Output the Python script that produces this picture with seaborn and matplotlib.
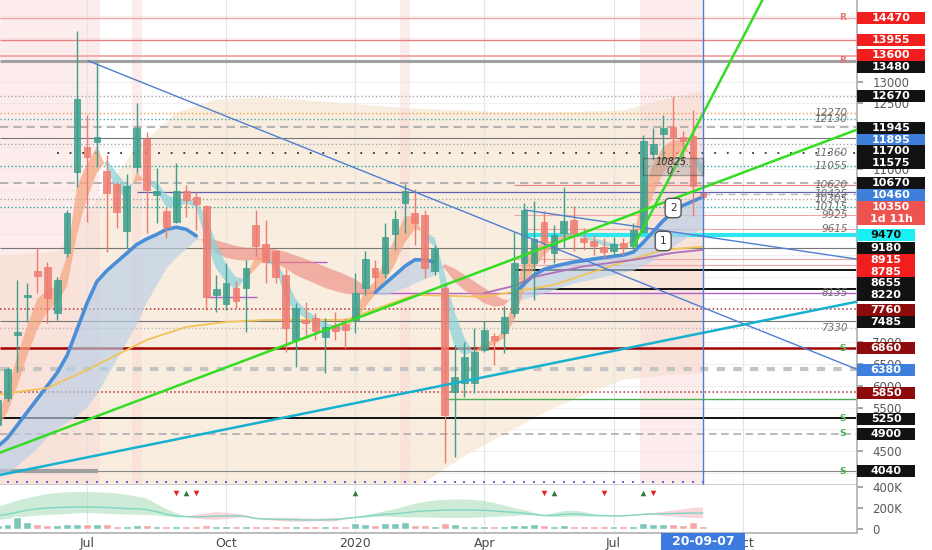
import numpy as np
import pandas as pd
import seaborn as sns
import matplotlib.pyplot as plt
from matplotlib.patches import Rectangle
from matplotlib.transforms import blended_transform_factory

# weekly bars, index 0 = week of 2019-05-06, index 70 = week of 2020-09-07
bars = list(range(-1, 71))

opens = [5100, 5719, 7170, 8047, 8645, 8738, 7678, 9060, 10926, 11502, 11618, 10949,
         10650, 9567, 11042, 11687, 10400, 10028, 9781, 10489, 10335, 10135, 8086, 7885,
         8254, 8247, 9705, 9267, 9106, 8553, 7056, 7477, 7555, 7117, 7401, 7424,
         7516, 8254, 8707, 8593, 9497, 10205, 9982, 9936, 8646, 8254, 5866, 6072,
         6057, 6826, 7155, 7210, 7670, 8823, 8823, 9781, 9053, 9528, 9820, 9397,
         9344, 9183, 9091, 9282, 9206, 9551, 11341, 11802, 11948, 11726, 11741, 10435]
highs = [5750, 6434, 8438, 8369, 9175, 8853, 8507, 10051, 14175, 12240, 13460, 11318,
         10696, 10880, 12516, 11848, 11018, 10120, 11134, 10627, 10450, 10166, 8553, 8824,
         8423, 8899, 10051, 9820, 9129, 8684, 7916, 7939, 7670, 7555, 7708, 7562,
         8593, 9091, 8899, 9744, 10051, 10650, 10527, 10051, 9244, 8362, 6940, 7017,
         7325, 7493, 7210, 7839, 9551, 10205, 10243, 10013, 9705, 10565, 10128, 9628,
         9474, 9397, 9421, 9397, 9744, 11779, 11933, 12240, 12661, 11856, 12355, 10460]
lows = [5000, 5650, 6318, 7470, 8139, 7447, 7516, 8968, 10581, 9774, 11042, 9083,
        9636, 9175, 10903, 9521, 9751, 9406, 9751, 9896, 9590, 7747, 7708, 7747,
        7786, 7247, 8991, 8362, 8362, 6786, 6441, 7133, 7056, 6289, 7056, 6870,
        7210, 8093, 8208, 8477, 9129, 9514, 9244, 8477, 8553, 4215, 4367, 5750,
        5827, 6786, 6480, 6763, 7593, 8362, 7977, 8823, 8823, 9168, 9091, 9129,
        9014, 8937, 8976, 9014, 9168, 9513, 11203, 11165, 11088, 11050, 9913, 10300]
closes = [5673, 6388, 7240, 8093, 8530, 8024, 8438, 9982, 12608, 11272, 11733, 10443,
          10005, 10604, 11940, 10512, 10480, 9659, 10473, 10281, 10182, 8040, 8223, 8362,
          7954, 8707, 9221, 8860, 8500, 7325, 7786, 7454, 7263, 7362, 7270, 7286,
          8132, 8922, 8500, 9436, 9836, 10489, 9744, 8707, 9168, 5335, 6197, 6671,
          6786, 7286, 7056, 7578, 8823, 10036, 9382, 9320, 9474, 9804, 9513, 9320,
          9206, 9068, 9267, 9191, 9590, 11627, 11572, 11933, 11703, 11625, 10604, 10350]
volume_k = [40, 50, 110, 65, 45, 40, 38, 45, 50, 48, 45, 50,
            32, 30, 35, 40, 30, 28, 28, 28, 25, 35, 28, 30,
            25, 32, 30, 28, 25, 32, 30, 28, 30, 25, 28, 30,
            60, 45, 38, 55, 58, 62, 42, 35, 28, 60, 45, 32,
            32, 30, 25, 25, 40, 40, 52, 40, 30, 35, 32, 28,
            28, 25, 30, 25, 30, 55, 50, 50, 48, 40, 70, 25]

# fast ribbon (orange when fast above slow, cyan when below)
fast_a = [5300, 5900, 6700, 7400, 8000, 8200, 8300, 9000, 10600, 11100, 11500, 11000,
          10500, 10300, 10900, 10700, 10500, 10100, 10100, 10200, 10100, 9300, 8700, 8400,
          8200, 8500, 9000, 8900, 8700, 8000, 7700, 7550, 7400, 7300, 7280, 7290,
          7700, 8200, 8400, 8900, 9400, 9900, 9900, 9400, 9200, 7700, 6900, 6700,
          6800, 7000, 7050, 7300, 8000, 9000, 9200, 9300, 9350, 9500, 9500, 9420,
          9320, 9220, 9200, 9220, 9400, 10500, 11100, 11500, 11650, 11650, 11200, 10800]
fast_b = [5000, 5400, 6000, 6700, 7300, 7700, 7900, 8300, 9500, 10300, 10900, 11200,
          10900, 10600, 10700, 10750, 10700, 10400, 10300, 10300, 10250, 9900, 9300, 8800,
          8500, 8450, 8700, 8950, 8850, 8500, 8000, 7750, 7600, 7450, 7380, 7340,
          7500, 7800, 8100, 8400, 8800, 9300, 9600, 9550, 9400, 8600, 7700, 7100,
          6750, 6850, 6950, 7100, 7500, 8200, 8700, 9000, 9200, 9350, 9420, 9430,
          9400, 9330, 9280, 9260, 9300, 9800, 10400, 10900, 11200, 11400, 11350, 11100]

# slow ribbon (blue when bullish, salmon when bearish)
slow_a = [4600, 4800, 5100, 5400, 5700, 6000, 6300, 6700, 7300, 7900, 8400, 8650,
          8850, 9050, 9250, 9380, 9480, 9600, 9650, 9600, 9450, 9250, 9050, 8950,
          8900, 8880, 8900, 8880, 8820, 8700, 8550, 8450, 8350, 8250, 8180, 8120,
          8100, 8100, 8150, 8350, 8550, 8750, 8900, 8900, 8850, 8700, 8400, 8200,
          8050, 7900, 7820, 7850, 8100, 8350, 8550, 8680, 8750, 8800, 8850, 8880,
          8920, 8950, 8980, 9010, 9080, 9300, 9550, 9800, 10000, 10150, 10250, 10350]
slow_b = [3900, 4000, 4150, 4350, 4550, 4800, 5000, 5150, 5300, 5500, 5800, 6200,
          6600, 7000, 7400, 7900, 8300, 8700, 8950, 9150, 9350, 9400, 9350, 9280,
          9220, 9180, 9180, 9170, 9140, 9080, 9000, 8920, 8830, 8740, 8650, 8560,
          8450, 8300, 8100, 8080, 8150, 8250, 8350, 8450, 8550, 8800, 8700, 8550,
          8400, 8250, 8100, 7980, 7950, 8000, 8050, 8120, 8200, 8280, 8350, 8400,
          8450, 8500, 8550, 8600, 8650, 8750, 8880, 9030, 9200, 9350, 9500, 9620]

ma_yellow_bars = [-1, 4, 8, 14, 18, 22, 26, 34, 41, 48, 55, 62, 66, 70]
ma_yellow = [5800, 5950, 6365, 7056, 7355, 7470, 7516, 7516, 8093, 8047, 8323, 8853, 9130, 9200]
ma_purple_bars = [48, 51, 53, 58, 63, 67, 70]
ma_purple = [8135, 8300, 8507, 8750, 8899, 9060, 9130]

cloud_bars = [-1, 5, 9, 13, 17, 21, 26, 32, 40, 42, 46, 50, 54, 58, 62, 66, 70]
cloud_high = [9000, 9100, 10300, 11500, 12300, 12600, 12650, 12550, 12400, 12380, 12350,
              12300, 12300, 12320, 12350, 12600, 12800]
cloud_low = [3700, 3700, 3700, 3700, 3700, 3700, 3700, 3700, 3700, 3800, 4400,
             4900, 5400, 5800, 6150, 6250, 6300]

# oscillator in the volume pane (thousands): centre line, band top, band bottom
vol_mid = [125, 140, 160, 180, 192, 200, 205, 208, 209, 209, 208, 205,
           200, 195, 192, 185, 165, 140, 125, 118, 115, 118, 122, 125,
           126, 120, 100, 95, 92, 90, 88, 86, 86, 87, 90, 100,
           110, 120, 130, 140, 145, 155, 165, 172, 176, 180, 181, 181,
           180, 178, 172, 165, 158, 150, 140, 128, 130, 140, 143, 138,
           130, 126, 125, 126, 132, 140, 143, 145, 148, 150, 152, 152]
vol_top = [210, 240, 270, 295, 315, 333, 342, 350, 352, 352, 350, 345,
           338, 325, 310, 290, 240, 190, 150, 122, 135, 150, 160, 155,
           145, 130, 105, 105, 108, 108, 106, 100, 98, 102, 108, 108,
           115, 132, 150, 170, 190, 215, 240, 258, 270, 278, 281, 281,
           276, 266, 248, 225, 200, 180, 155, 133, 150, 170, 175, 163,
           142, 129, 133, 132, 136, 148, 153, 163, 176, 188, 200, 207]
vol_bot = [85, 95, 110, 120, 128, 133, 138, 142, 150, 152, 150, 145,
           140, 138, 135, 135, 130, 118, 110, 113, 100, 90, 88, 95,
           106, 108, 95, 85, 78, 72, 70, 70, 74, 72, 72, 92,
           105, 110, 115, 118, 112, 110, 110, 110, 108, 105, 105, 105,
           108, 110, 115, 120, 125, 130, 130, 123, 115, 115, 118, 118,
           118, 123, 117, 120, 128, 133, 133, 127, 120, 112, 106, 100]
sig_down = [17, 19, 54, 60, 65]
sig_up = [18, 35, 55, 64]

key_levels = [14470, 13955, 13600, 13480, 12670, 12270, 12130, 11945, 11700, 11575,
              11360, 11055, 10670, 10620, 10460, 10425, 10305, 10115, 9925, 9615,
              9470, 9180, 8915, 8785, 8655, 8220, 8135, 7760, 7485, 7330, 6860,
              6380, 5850, 5705, 5250, 4900, 4040]
note_levels = ['12270', '12130', '11360', '11055', '10620', '10425', '10305', '10115',
               '9925', '9615', '8135', '7330']
resist_levels = [14470, 13480]
support_levels = [6860, 5250, 4900, 4040]

# right-hand price tags: text, level it is shown at, kind
tag_text = ['14470', '13955', '13600', '13480', '12670', '11945', '11895', '11700',
            '11575', '10670', '10460', '10350', '1d 11h', '9470', '9180', '8915',
            '8785', '8655', '8220', '7760', '7485', '6860', '6380', '5850', '5250',
            '4900', '4040']
tag_at = [14475, 13958, 13601, 13325, 12669, 11944, 11668, 11404, 11127, 10667, 10391,
          10126, 9850, 9470, 9172, 8895, 8619, 8355, 8090, 7756, 7480, 6859, 6364,
          5846, 5248, 4903, 4040]
tag_kind = ['red', 'red', 'red', 'black', 'black', 'black', 'blue', 'black', 'black',
            'black', 'blue', 'lred', 'lred', 'cyan', 'black', 'red', 'red', 'black',
            'black', 'dred', 'black', 'dred', 'blue', 'dred', 'black', 'black', 'black']
axis_ticks = [13000, 12500, 11000, 7000, 6500, 6000, 5500, 4500]

trend_blue1_x, trend_blue1_y = [8.1, 85.5], [13480, 6380]
trend_blue2_x, trend_blue2_y = [52.1, 85.5], [10046, 8915]
trend_green_x, trend_green_y = [-0.76, 85.5], [4461, 11895]
trend_steep_x, trend_steep_y = [63.0, 76.0], [9200, 14880]
trend_cyan_x, trend_cyan_y = [-0.76, 85.5], [3948, 7936]

month_bars = [8, 22, 35, 48, 61, 74]
month_labels = ['Jul', 'Oct', '2020', 'Apr', 'Jul', 'Oct']

df = pd.DataFrame({'bar': bars, 'open': opens, 'high': highs, 'low': lows,
                   'close': closes, 'vol': volume_k})
df['up'] = df['close'] >= df['open']

sns.set_theme(style='white')
plt.rcParams['font.family'] = ['DejaVu Sans']

W, H = 932, 550
fig = plt.figure(figsize=(W / 100, H / 100), dpi=100)
ax = fig.add_axes([0, 65 / H, 857 / W, 485 / H])
vax = fig.add_axes([0, 17 / H, 857 / W, 48 / H])
x_lo, x_hi = -0.755, 85.51
ax.set_xlim(x_lo, x_hi)
ax.set_ylim(3718, 14878)
vax.set_xlim(x_lo, x_hi)
vax.set_ylim(-38000, 419000)

# background: envelope cloud, highlighted weeks, grid
ax.fill_between(cloud_bars, cloud_low, cloud_high, color='#f6e6d1', alpha=0.7, lw=0, zorder=0.2)
for a, b in [(x_lo, 9.3), (12.5, 13.5), (39.5, 40.5), (63.7, 70.0)]:
    ax.axvspan(a, b, color='#fbd5d5', alpha=0.45, lw=0, zorder=0.3)
for p in range(4000, 15000, 500):
    ax.axhline(p, color='#eeeeee', lw=0.6, zorder=0.1)
for m in month_bars:
    ax.axvline(m, color='#e4e4e4', lw=0.8, zorder=0.4)
    vax.axvline(m, color='#e4e4e4', lw=0.8, zorder=0.4)

# horizontal levels
RL, GR = '#f3a5a5', '#a8a8a8'
level_style = {
    14470: (RL, '-', 1.0, None), 13955: ('#e98080', '-', 1.0, None),
    13600: (RL, '-', 1.3, None), 13480: ('#a0a0a0', '-', 2.2, None),
    12670: (GR, ':', 1.0, None), 12270: ('#f0a050', ':', 1.0, None),
    12130: ('#4aa8b0', ':', 1.0, None), 11945: (GR, (0, (5, 3)), 1.2, None),
    11700: ('#777777', '-', 0.8, None), 11575: (GR, ':', 1.0, None),
    11360: ('#333333', (0, (1, 6)), 1.3, 5), 11055: ('#26a69a', ':', 1.0, None),
    10670: (GR, (0, (5, 3)), 1.2, None), 10620: ('#f08080', '-', 0.8, 51),
    10460: ('#6060b0', '-', 0.9, 13), 10425: ('#b8b8b8', (0, (5, 4)), 1.0, 70),
    10305: (GR, ':', 1.0, None), 10115: ('#26a69a', ':', 1.0, None),
    9925: (RL, '-', 0.8, 51), 9615: (RL, '-', 0.8, 52),
    9470: ('#2ee6f0', '-', 3.0, 52), 9180: ('#777777', '-', 0.8, None),
    8915: (RL, '-', 0.8, 51), 8785: (RL, '-', 0.8, 51),
    8655: ('#111111', '-', 1.4, 51), 8220: ('#111111', '-', 1.4, 53),
    8135: ('#b060c8', '-', 1.0, 35.5), 7760: ('#b03030', ':', 1.1, None),
    7485: ('#777777', '-', 0.8, None), 7330: ('#b8b8b8', ':', 1.0, None),
    6860: ('#a00000', '-', 1.8, None), 6380: ('#c4c4c4', (0, (2, 2)), 3.0, None),
    5850: ('#b03030', ':', 1.1, None), 5705: ('#4caf50', '-', 1.0, 44),
    5250: ('#111111', '-', 1.4, None), 4900: (GR, (0, (5, 3)), 1.1, None),
    4040: ('#888888', '-', 0.8, None),
}
for p in key_levels:
    col, ls, lw, start = level_style[p]
    ax.hlines(p, x_lo if start is None else start, x_hi, colors=col, linestyles=ls,
              lw=lw, zorder=1.5)
ax.hlines(4040, x_lo, 9.1, colors='#a0a0a0', lw=3, zorder=1.6)
ax.hlines([8849, 8044], [26, 20], [32.2, 25.1], colors='#b060c8', lw=1.0, zorder=1.6)

# slow ribbon
sa, sb = np.array(slow_a), np.array(slow_b)
ax.fill_between(bars, sa, sb, where=sa >= sb, interpolate=True, color='#b9cfe7',
                alpha=0.65, lw=0, zorder=2)
ax.fill_between(bars, sa, sb, where=sa < sb, interpolate=True, color='#ee8c84',
                alpha=0.65, lw=0, zorder=2)
ax.plot(bars, np.where(sa >= sb, sa, np.nan), color='#4a8ed8', lw=2.6, zorder=2.6)

# fast ribbon
fa, fb = np.array(fast_a), np.array(fast_b)
ax.fill_between(bars, fa, fb, where=fa >= fb, interpolate=True, color='#f5a47e',
                alpha=0.7, lw=0, zorder=2.2)
ax.fill_between(bars, fa, fb, where=fa < fb, interpolate=True, color='#86d3da',
                alpha=0.7, lw=0, zorder=2.2)

sns.lineplot(x=ma_yellow_bars, y=ma_yellow, ax=ax, color='#f2c35a', lw=1.3, zorder=2.7)
sns.lineplot(x=ma_purple_bars, y=ma_purple, ax=ax, color='#b070b8', lw=1.3, zorder=2.7)

# candles
col = np.where(df['up'], '#3c9f8c', '#ee7b71')
ax.vlines(df['bar'], df['low'], df['high'], colors=col, lw=1.0, zorder=3)
body_lo = np.minimum(df['open'], df['close'])
body_h = np.maximum((df['close'] - df['open']).abs(), 50)
ax.bar(df['bar'], body_h, bottom=body_lo, width=0.68, color=col, edgecolor=col,
       lw=0.6, alpha=0.85, zorder=3.1)
ax.scatter(bars, [3787] * len(bars), marker='s', s=2.5, color='#6b63d6', lw=0, zorder=3)

# trend lines
sns.lineplot(x=trend_blue1_x, y=trend_blue1_y, ax=ax, color='#4f7fd0', lw=1.0, zorder=4)
sns.lineplot(x=trend_blue2_x, y=trend_blue2_y, ax=ax, color='#4f7fd0', lw=1.0, zorder=4)
sns.lineplot(x=trend_green_x, y=trend_green_y, ax=ax, color='#33dd22', lw=1.8, zorder=4)
sns.lineplot(x=trend_steep_x, y=trend_steep_y, ax=ax, color='#33dd22', lw=1.8, zorder=4)
sns.lineplot(x=trend_cyan_x, y=trend_cyan_y, ax=ax, color='#16b0d0', lw=1.8, zorder=4)
ax.axvline(70, color='#4a7fd6', lw=1.0, zorder=4)

# annotations
ax.add_patch(Rectangle((63.97, 10851), 6.03, 391, fc='#9a9a9a', alpha=0.35, ec='#222222',
                       lw=1.0, zorder=5))
ax.text(67, 11046, '10825.\n0 -', ha='center', va='center', fontsize=7, style='italic',
        color='#333333', linespacing=0.85, zorder=6)
for txt, bx, py in [('1', 66, 9333), ('2', 67, 10092)]:
    ax.text(bx, py, txt, ha='center', va='center', fontsize=7.5, color='#333333', zorder=6,
            bbox=dict(boxstyle='round,pad=0.45', fc='white', ec='#555555', lw=1.0))
for t in note_levels:
    ax.text(84.6, float(t), t, ha='right', va='center', fontsize=7.5, style='italic',
            color='#6f6f6f', zorder=6)
for p in resist_levels:
    ax.text(84.1, p, 'R', ha='center', va='center', fontsize=6.5, fontweight='bold',
            color='#e57373', zorder=6)
for p in support_levels:
    ax.text(84.1, p, 'S', ha='center', va='center', fontsize=6.5, fontweight='bold',
            color='#4caf50', zorder=6)

# axes styling
for a in (ax, vax):
    a.set_facecolor('white')
    a.spines['top'].set_visible(False)
    a.spines['left'].set_visible(False)
    a.spines['right'].set_color('#b2b2b2')
    a.yaxis.tick_right()
    a.tick_params(axis='y', length=4, color='#999999', pad=7, labelsize=8.5,
                  labelcolor='#5a5a5a', right=True)
ax.spines['bottom'].set_color('#c8c8c8')
vax.spines['bottom'].set_color('#b2b2b2')
ax.set_xticks([])
ax.set_yticks(axis_ticks)
ax.set_yticklabels([str(v) for v in axis_ticks])
vax.set_yticks([0, 200000, 400000])
vax.set_yticklabels(['0', '200K', '400K'])
vax.set_xticks(month_bars)
vax.set_xticklabels(month_labels)
vax.tick_params(axis='x', length=0, pad=3, labelsize=9, labelcolor='#4a4a4a')

# price tags on the right axis
tag_colors = {'red': ('#f21d1d', 'white'), 'lred': ('#ef5350', 'white'),
              'dred': ('#8e0b0b', 'white'), 'blue': ('#3f7fdc', 'white'),
              'cyan': ('#18f0f5', '#111111'), 'black': ('#121212', 'white')}
trans = blended_transform_factory(ax.transAxes, ax.transData)
half = 6 * 23.01
for t, at, kind in zip(tag_text, tag_at, tag_kind):
    bg, fg = tag_colors[kind]
    wf = (68 if len(t) >= 5 else 58) / 857
    ax.add_patch(Rectangle((1.0, at - half), wf, 2 * half, transform=trans, fc=bg, lw=0,
                           clip_on=False, zorder=10))
    ax.text(1.0 + wf / 2, at, t, transform=trans, ha='center', va='center', fontsize=8,
            fontweight='bold', color=fg, clip_on=False, zorder=11)

# volume pane
vcol = np.where(df['up'], '#7cc7b8', '#f4a9a9')
vax.bar(df['bar'], df['vol'] * 1000, width=0.8, color=vcol, zorder=2)
vm = np.array(vol_mid) * 1000
vt, vb = np.array(vol_top) * 1000, np.array(vol_bot) * 1000
bull = np.array([True] * 19 + [False] * 16 + [True] * 26 + [False] * 2 + [True] * 2
                + [False] * 7)
vax.fill_between(bars, vb, vt, where=bull, interpolate=True, color='#a5dbb5', alpha=0.55,
                 lw=0, zorder=1.5)
vax.fill_between(bars, vb, vt, where=~bull, interpolate=True, color='#f7b9c3', alpha=0.6,
                 lw=0, zorder=1.5)
vax.plot(bars, vm, color='#7fd6c2', lw=1.0, zorder=1.8)
vax.scatter(sig_down, [343000] * len(sig_down), marker='v', s=16, color='#e02424', lw=0, zorder=5)
vax.scatter(sig_up, [343000] * len(sig_up), marker='^', s=16, color='#2e7d32', lw=0, zorder=5)

# date tag under the last bar
xc = ax.transData.transform((70, 0))[0]
fig.add_artist(Rectangle(((xc - 42) / W, 0), 84 / W, 17 / H, transform=fig.transFigure,
                         fc='#3d7be0', lw=0, zorder=5))
fig.text(xc / W, 8.5 / H, '20-09-07', ha='center', va='center', color='white', fontsize=9,
         fontweight='bold', zorder=6)

fig.savefig('out.png', dpi=100)
